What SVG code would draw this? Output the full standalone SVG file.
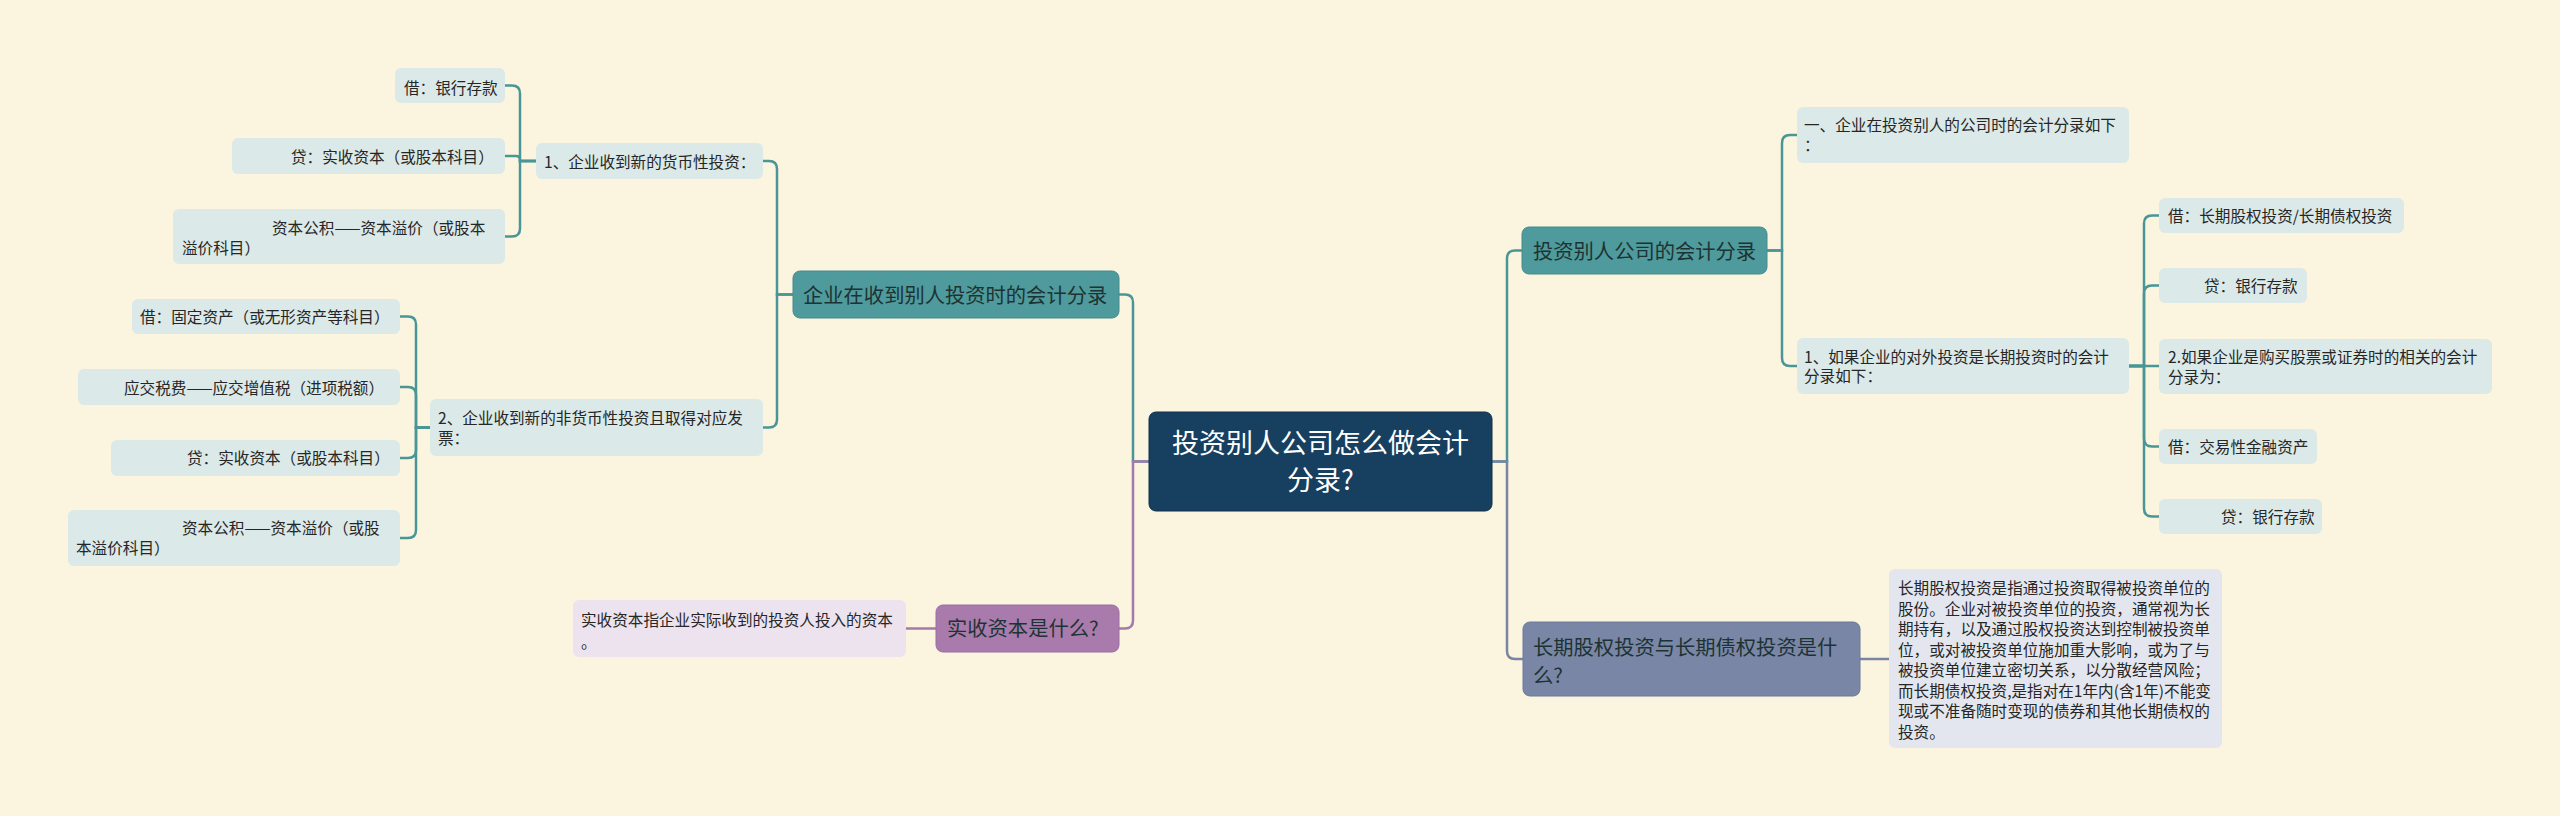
<svg xmlns="http://www.w3.org/2000/svg" width="2560" height="816" viewBox="0 0 2560 816">
<style>
text{font-family:"Noto Sans CJK SC","Noto Sans",sans-serif;}
.leaf{fill:#dbe9e8;}
.lt{font-size:15.6px;fill:#262626;}
.teal{fill:#4f9a9c;stroke:#468c8e;stroke-width:1;}
.mt{font-size:20.3px;fill:#1d3333;}
.ct{font-size:27px;fill:#ffffff;}
.c-teal{fill:none;stroke:#4a9696;stroke-width:2.5;}
.c-pur{fill:none;stroke:#a47aab;stroke-width:2.5;}
.c-gray{fill:none;stroke:#7a85a3;stroke-width:2.5;}
</style>
<rect width="2560" height="816" fill="#fbf5df"/>
<g id="connectors">
<path class="c-teal" d="M793 294.5H777V169Q777 161 769 161H763"/>
<path class="c-teal" d="M793 294.5H777V419.5Q777 427.5 769 427.5H763"/>
<path class="c-teal" d="M536 161H520V93.5Q520 85.5 512 85.5H505"/>
<path class="c-teal" d="M536 161H520V160Q520 156 516 156H505"/>
<path class="c-teal" d="M536 161H520V228.5Q520 236.5 512 236.5H505"/>
<path class="c-teal" d="M430 427.5H416V324.5Q416 316.5 408 316.5H400"/>
<path class="c-teal" d="M430 427.5H416V395Q416 387 408 387H400"/>
<path class="c-teal" d="M430 427.5H416V450Q416 458 408 458H400"/>
<path class="c-teal" d="M430 427.5H416V530Q416 538 408 538H400"/>
<path class="c-teal" d="M1149 461.5H1133V302.5Q1133 294.5 1125 294.5H1119"/>
<path class="c-teal" d="M1492 461.5H1507V258.5Q1507 250.5 1515 250.5H1522"/>
<path class="c-teal" d="M1767 250.5H1782V143Q1782 135 1790 135H1797"/>
<path class="c-teal" d="M1767 250.5H1782V358Q1782 366 1790 366H1797"/>
<path class="c-teal" d="M2129 366H2144V223.5Q2144 215.5 2152 215.5H2159"/>
<path class="c-teal" d="M2129 366H2144V293.5Q2144 285.5 2152 285.5H2159"/>
<path class="c-teal" d="M2129 366H2159"/>
<path class="c-teal" d="M2129 366H2144V438.5Q2144 446.5 2152 446.5H2159"/>
<path class="c-teal" d="M2129 366H2144V508.5Q2144 516.5 2152 516.5H2159"/>
<path class="c-pur" d="M1149 461.5H1133V620.5Q1133 628.5 1125 628.5H1119"/>
<path class="c-pur" d="M936 628.5H906"/>
<path class="c-gray" d="M1492 461.5H1507V651Q1507 659 1515 659H1523"/>
<path class="c-gray" d="M1860 659H1889"/>
</g>
<g id="central">
<rect x="1149" y="412" width="343" height="99" rx="7" fill="#173f5f" stroke="#10304a" stroke-width="1"/>
<text class="ct" x="1320.5" y="453" text-anchor="middle">投资别人公司怎么做会计</text>
<text class="ct" x="1320.5" y="490" text-anchor="middle">分录?</text>
</g>
<g id="n-receive">
<rect class="teal" x="793" y="271" width="326" height="47" rx="7"/>
<text class="mt" x="803" y="302.7">企业在收到别人投资时的会计分录</text>
</g>
<g id="n-monetary">
<rect class="leaf" x="536" y="143" width="227" height="36" rx="6"/>
<text class="lt" x="544" y="168">1、企业收到新的货币性投资：</text>
</g>
<g id="n-m1">
<rect class="leaf" x="395" y="68" width="110" height="35" rx="6"/>
<text class="lt" x="404" y="94">借：银行存款</text>
</g>
<g id="n-m2">
<rect class="leaf" x="232" y="138" width="273" height="36" rx="6"/>
<text class="lt" x="291" y="163">贷：实收资本（或股本科目）</text>
</g>
<g id="n-m3">
<rect class="leaf" x="173" y="209" width="332" height="55" rx="6"/>
<text class="lt" x="272" y="234">资本公积——资本溢价（或股本</text>
<text class="lt" x="182" y="254">溢价科目）</text>
</g>
<g id="n-nonmonetary">
<rect class="leaf" x="430" y="399" width="333" height="57" rx="6"/>
<text class="lt" x="438" y="424">2、企业收到新的非货币性投资且取得对应发</text>
<text class="lt" x="438" y="444">票：</text>
</g>
<g id="n-n1">
<rect class="leaf" x="132" y="299" width="268" height="35" rx="6"/>
<text class="lt" x="140" y="323">借：固定资产（或无形资产等科目）</text>
</g>
<g id="n-n2">
<rect class="leaf" x="78" y="369" width="322" height="36" rx="6"/>
<text class="lt" x="124" y="394">应交税费——应交增值税（进项税额）</text>
</g>
<g id="n-n3">
<rect class="leaf" x="111" y="440" width="289" height="36" rx="6"/>
<text class="lt" x="187" y="464">贷：实收资本（或股本科目）</text>
</g>
<g id="n-n4">
<rect class="leaf" x="68" y="510" width="332" height="56" rx="6"/>
<text class="lt" x="182" y="534">资本公积——资本溢价（或股</text>
<text class="lt" x="76" y="554">本溢价科目）</text>
</g>
<g id="n-paidin">
<rect x="936" y="605" width="183" height="47" rx="7" fill="#a97bad" stroke="#9a6ea0" stroke-width="1"/>
<text class="mt" x="947" y="635.7" fill="#2a1f2e">实收资本是什么?</text>
</g>
<g id="n-paidin-desc">
<rect x="573" y="600" width="333" height="57" rx="6" fill="#ede3ee"/>
<text class="lt" x="581" y="626">实收资本指企业实际收到的投资人投入的资本</text>
<text class="lt" x="581" y="648">。</text>
</g>
<g id="n-invest">
<rect class="teal" x="1522" y="227" width="245" height="47" rx="7"/>
<text class="mt" x="1533" y="258.7">投资别人公司的会计分录</text>
</g>
<g id="n-i1">
<rect class="leaf" x="1797" y="107" width="332" height="56" rx="6"/>
<text class="lt" x="1804" y="131">一、企业在投资别人的公司时的会计分录如下</text>
<text class="lt" x="1804" y="151">：</text>
</g>
<g id="n-i2">
<rect class="leaf" x="1797" y="338" width="332" height="56" rx="6"/>
<text class="lt" x="1804" y="363">1、如果企业的对外投资是长期投资时的会计</text>
<text class="lt" x="1804" y="382">分录如下：</text>
</g>
<g id="n-j1">
<rect class="leaf" x="2159" y="198" width="245" height="35" rx="6"/>
<text class="lt" x="2168" y="222">借：长期股权投资/长期债权投资</text>
</g>
<g id="n-j2">
<rect class="leaf" x="2159" y="268" width="148" height="35" rx="6"/>
<text class="lt" x="2204" y="292">贷：银行存款</text>
</g>
<g id="n-j3">
<rect class="leaf" x="2159" y="339" width="333" height="55" rx="6"/>
<text class="lt" x="2168" y="363">2.如果企业是购买股票或证券时的相关的会计</text>
<text class="lt" x="2168" y="383">分录为：</text>
</g>
<g id="n-j4">
<rect class="leaf" x="2159" y="429" width="158" height="35" rx="6"/>
<text class="lt" x="2168" y="453">借：交易性金融资产</text>
</g>
<g id="n-j5">
<rect class="leaf" x="2159" y="499" width="163" height="35" rx="6"/>
<text class="lt" x="2221" y="523">贷：银行存款</text>
</g>
<g id="n-long">
<rect x="1523" y="622" width="337" height="74" rx="7" fill="#7a86a6" stroke="#6d7896" stroke-width="1"/>
<text class="mt" x="1533" y="654.7" fill="#1f2533">长期股权投资与长期债权投资是什</text>
<text class="mt" x="1533" y="682.7" fill="#1f2533">么?</text>
</g>
<g id="n-long-desc">
<rect x="1889" y="569" width="333" height="179" rx="6" fill="#e3e6ee"/>
<text class="lt" x="1898" y="594">长期股权投资是指通过投资取得被投资单位的</text>
<text class="lt" x="1898" y="614.5">股份。企业对被投资单位的投资，通常视为长</text>
<text class="lt" x="1898" y="635">期持有，以及通过股权投资达到控制被投资单</text>
<text class="lt" x="1898" y="655.5">位，或对被投资单位施加重大影响，或为了与</text>
<text class="lt" x="1898" y="676">被投资单位建立密切关系，以分散经营风险；</text>
<text class="lt" x="1898" y="696.5">而长期债权投资,是指对在1年内(含1年)不能变</text>
<text class="lt" x="1898" y="717">现或不准备随时变现的债券和其他长期债权的</text>
<text class="lt" x="1898" y="737.5">投资。</text>
</g>
</svg>
